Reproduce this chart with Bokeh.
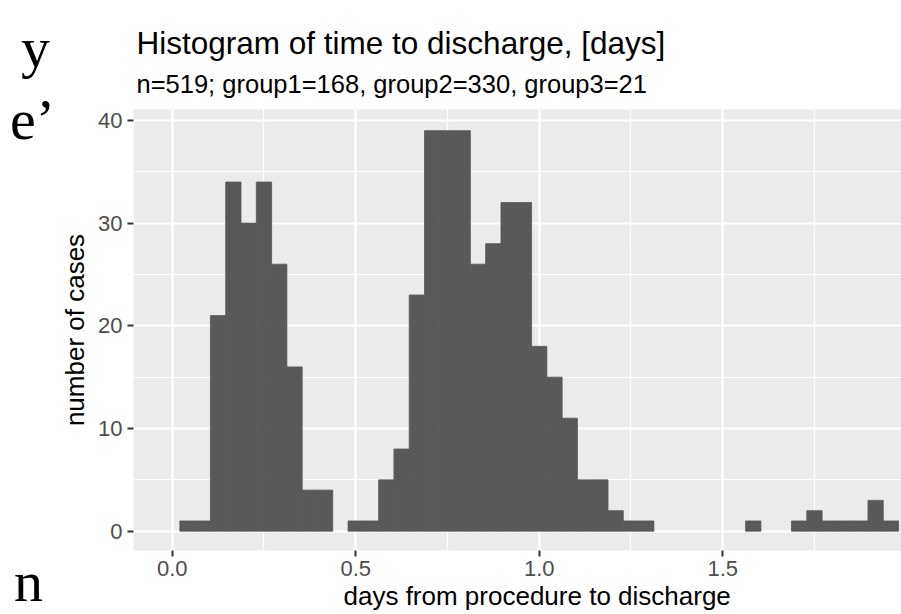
from bokeh.plotting import figure
from bokeh.layouts import row
from bokeh.models import FixedTicker, Range1d, ColumnDataSource, Title, Div
from bokeh.embed import file_html
from bokeh.resources import INLINE

# ---- data ----
bin_center_hours = [1, 2, 3, 4, 5, 6, 7, 8, 9, 10,
                    11, 12, 13, 14, 15, 16, 17, 18, 19, 20,
                    21, 22, 23, 24, 25, 26, 27, 28, 29, 30,
                    31, 32, 33, 34, 35, 36, 37, 38, 39, 40,
                    41, 42, 43, 44, 45, 46, 47]
counts = [1, 1, 21, 34, 30, 34, 26, 16, 4, 4,
          0, 1, 1, 5, 8, 23, 39, 39, 39, 26,
          28, 32, 32, 18, 15, 11, 5, 5, 2, 1,
          1, 0, 0, 0, 0, 0, 0, 1, 0, 0,
          1, 2, 1, 1, 1, 3, 1]
HOURS_PER_DAY = 24.0

x_ticks = [0.0, 0.5, 1.0, 1.5, 2.0]
x_tick_labels = ["0.0", "0.5", "1.0", "1.5", "2.0"]
x_minor = [0.25, 0.75, 1.25, 1.75]
y_ticks = [0, 10, 20, 30, 40]
y_tick_labels = ["0", "10", "20", "30", "40"]
y_minor = [5, 15, 25, 35]

title_text = "Histogram of time to discharge, [days]"
subtitle_text = "n=519; group1=168, group2=330, group3=21"
x_title = "days from procedure to discharge"
y_title = "number of cases"

# stray fragments of the surrounding document (serif text at the left edge)
stray_texts = ["y", "e\u2019", "n"]

# ---- page geometry ----
PAGE_W, PAGE_H = 901, 614
LEFT_W = 56                      # narrow strip holding the stray fragments
FRAME_L, FRAME_R, FRAME_T, FRAME_B = 133, 901, 109, 550
X0_PX, X_SCALE = 171.7, 367.0     # pixel of x=0 and pixels per day
Y0_PX, Y_SCALE = 530.7, 10.27     # pixel of y=0 and pixels per case

def dx(page_x):
    return (page_x - X0_PX) / X_SCALE
def dy(page_y):
    return (Y0_PX - page_y) / Y_SCALE

# ---- stray text strip (HTML) ----
FS = 58
spans = []
for txt, right_edge, baseline in zip(stray_texts, [50, 55, 43], [68, 140, 602]):
    top = baseline - 0.891 * FS + (1.107 * FS - FS) / 2.0
    spans.append(
        '<span style="position:absolute;white-space:nowrap;right:%dpx;top:%.1fpx;">%s</span>'
        % (LEFT_W - right_edge, top, txt))
strip_html = (
    '<div style="position:relative;width:%dpx;height:%dpx;overflow:hidden;'
    "font-family:'Liberation Serif';font-size:%dpx;line-height:%dpx;color:black;"
    'margin:0;padding:0;">%s</div>' % (LEFT_W, PAGE_H, FS, FS, "".join(spans)))
strip = Div(text=strip_html, width=LEFT_W, height=PAGE_H, margin=0)

# ---- main histogram ----
keep = [i for i, c in enumerate(counts) if c > 0]
src = ColumnDataSource(dict(
    left=[(bin_center_hours[i] - 0.5) / HOURS_PER_DAY for i in keep],
    right=[(bin_center_hours[i] + 0.5) / HOURS_PER_DAY for i in keep],
    top=[counts[i] for i in keep],
    bottom=[0] * len(keep),
))

p = figure(width=PAGE_W - LEFT_W, height=PAGE_H, output_backend="svg",
           toolbar_location=None,
           x_range=Range1d(dx(FRAME_L), dx(FRAME_R)),
           y_range=Range1d(dy(FRAME_B), dy(FRAME_T)),
           min_border_left=FRAME_L - LEFT_W, min_border_right=0,
           min_border_top=FRAME_T, min_border_bottom=PAGE_H - FRAME_B)
p.outline_line_color = None
p.background_fill_color = "#EBEBEB"
p.border_fill_color = "white"

p.quad(left="left", right="right", top="top", bottom="bottom", source=src,
       fill_color="#595959", line_color="#595959", line_width=0.8)

FONT = "Liberation Sans"
p.xaxis.ticker = FixedTicker(ticks=x_ticks, minor_ticks=x_minor)
p.yaxis.ticker = FixedTicker(ticks=y_ticks, minor_ticks=y_minor)
p.xaxis.major_label_overrides = {t: l for t, l in zip(x_ticks, x_tick_labels)}
p.yaxis.major_label_overrides = {t: l for t, l in zip(y_ticks, y_tick_labels)}
for ax in (p.xaxis[0], p.yaxis[0]):
    ax.axis_line_color = None
    ax.major_tick_line_color = "#333333"
    ax.major_tick_line_width = 2
    ax.major_tick_out = 6
    ax.major_tick_in = 0
    ax.minor_tick_line_color = None
    ax.major_label_text_color = "#4D4D4D"
    ax.major_label_text_font = FONT
    ax.major_label_text_font_size = "22px"
    ax.axis_label_text_font = FONT
    ax.axis_label_text_font_size = "26px"
    ax.axis_label_text_font_style = "normal"
    ax.axis_label_text_color = "black"
p.yaxis.axis_label = y_title
p.xaxis.major_label_standoff = 4
p.yaxis.major_label_standoff = 5
p.yaxis.axis_label_standoff = 5

for g in (p.xgrid[0], p.ygrid[0]):
    g.grid_line_color = "white"
    g.grid_line_width = 2.2
    g.minor_grid_line_color = "white"
    g.minor_grid_line_width = 1.2

# x-axis title as a left-aligned title below the axis (placed like the reference)
p.add_layout(Title(text=x_title, align="left", offset=343 - FRAME_L, standoff=0,
                   text_font=FONT, text_font_size="26px",
                   text_font_style="normal", text_color="black"), "below")
p.add_layout(Title(text=subtitle_text, align="left", offset=3, standoff=19,
                   vertical_align="top",
                   text_font=FONT, text_font_size="25.5px",
                   text_font_style="normal", text_color="black"), "above")
p.add_layout(Title(text=title_text, align="left", offset=3, standoff=0,
                   text_font=FONT, text_font_size="31.5px",
                   text_font_style="normal", text_color="black"), "above")

layout = row(strip, p, spacing=0)
open("out.html", "w").write(file_html(layout, INLINE))
